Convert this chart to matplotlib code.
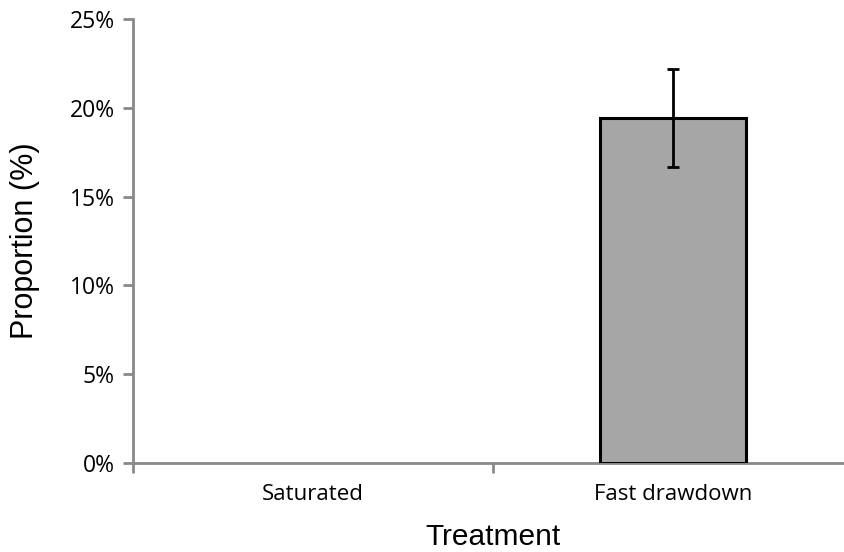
import numpy as np
import matplotlib.pyplot as plt
from matplotlib.ticker import FuncFormatter

categories = ['Saturated', 'Fast drawdown']
values = [0.0, 19.43]
errors = [0.0, 2.78]
yticks = [0, 5, 10, 15, 20, 25]

fig = plt.figure(figsize=(8.44, 5.52), dpi=100)
ax = fig.add_axes([133/844, 89/552, 720/844, 444/552])

x = np.arange(len(categories))
ax.bar(x[1:], values[1:], width=0.403, color='#a6a6a6', edgecolor='black', linewidth=2.2,
       yerr=errors[1:], error_kw=dict(ecolor='black', elinewidth=2, capsize=4.3, capthick=2), zorder=3)

ax.set_xlim(-0.5, 1.5)
ax.set_ylim(0, 25)
ax.set_yticks(yticks)
ax.yaxis.set_major_formatter(FuncFormatter(lambda v, p: f'{v:.0f}%'))

ax.set_xticks(x)
ax.set_xticklabels(categories, fontfamily='Open Sans', fontsize=16)
ax.tick_params(axis='x', length=0, pad=15)
ax.set_xticks([-0.5, 0.5], minor=True)
ax.tick_params(axis='x', which='minor', length=7, width=2, color='#898989')
ax.tick_params(axis='y', length=7, width=2, color='#898989', pad=6)
for t in ax.get_yticklabels():
    t.set_fontfamily('Open Sans')
    t.set_fontsize(16.5)

for s in ['top', 'right']:
    ax.spines[s].set_visible(False)
for s in ['left', 'bottom']:
    ax.spines[s].set_color('#898989')
    ax.spines[s].set_linewidth(2)

ax.set_ylabel('Proportion (%)', fontfamily='Liberation Sans', fontsize=22)
ax.set_xlabel('Treatment', fontfamily='Liberation Sans', fontsize=21.5)
ax.yaxis.set_label_coords(-(133 - 25) / 720, 0.5)
ax.xaxis.set_label_coords(0.5, -(537 - 463) / 444)
ax.xaxis.label.set_va('center')
ax.yaxis.label.set_va('center')

fig.savefig('out.png', dpi=100)
